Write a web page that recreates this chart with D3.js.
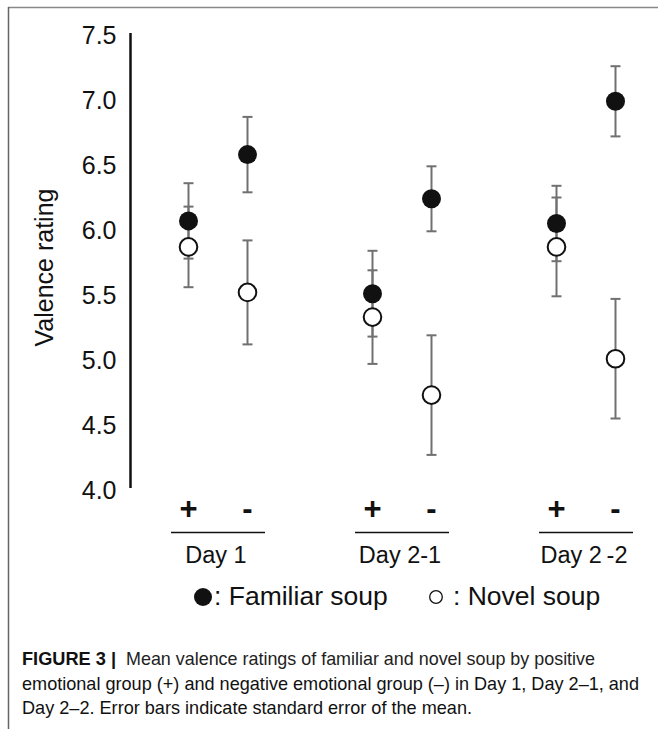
<!DOCTYPE html>
<html>
<head>
<meta charset="utf-8">
<script src="https://cdn.jsdelivr.net/npm/d3@7"></script>
<style>
  html, body { margin: 0; padding: 0; background: #fff; }
  svg { display: block; }
  text { font-family: "Liberation Sans", Arial, Helvetica, sans-serif; fill: #111; }
</style>
</head>
<body>
<script>
// ---------------- data ----------------
const days = ["Day 1", "Day 2-1", "Day 2\u2009-2"];
const groups = ["+", "-"];
// order: Day1 +, Day1 -, Day2-1 +, Day2-1 -, Day2-2 +, Day2-2 -
const familiarMean = [6.07, 6.58, 5.51, 6.24, 6.05, 6.99];
const familiarSE   = [0.29, 0.29, 0.33, 0.25, 0.29, 0.27];
const novelMean    = [5.87, 5.52, 5.33, 4.73, 5.87, 5.01];
const novelSE      = [0.31, 0.40, 0.36, 0.46, 0.38, 0.46];
const yTicks = [4.0, 4.5, 5.0, 5.5, 6.0, 6.5, 7.0, 7.5];
const yLabel = "Valence rating";
const legendLabels = [": Familiar soup", ": Novel soup"];
const captionBold = "FIGURE 3 |";
const captionLines = [
  "Mean valence ratings of familiar and novel soup by positive",
  "emotional group (+) and negative emotional group (\u2013) in Day 1, Day 2\u20131, and",
  "Day 2\u20132. Error bars indicate standard error of the mean."
];

// ---------------- layout ----------------
const W = 659, H = 729;
const svg = d3.select("body").append("svg").attr("width", W).attr("height", H);

// frame
svg.append("line").attr("x1", 8).attr("x2", 658).attr("y1", 7.5).attr("y2", 7.5)
  .attr("stroke", "#888").attr("stroke-width", 1.5);
svg.append("line").attr("x1", 8.5).attr("x2", 8.5).attr("y1", 7).attr("y2", H)
  .attr("stroke", "#666").attr("stroke-width", 1.5);

const y = d3.scaleLinear().domain([4.0, 7.5]).range([490, 35]);
const xDay = d3.scalePoint().domain(days).range([218, 586]);
const xGrp = d3.scalePoint().domain(groups).range([-29.5, 29.5]);

// rows
const rows = [];
days.forEach((d, i) => groups.forEach((g, j) => {
  const k = i * 2 + j;
  rows.push({day: d, grp: g, fm: familiarMean[k], fs: familiarSE[k], nm: novelMean[k], ns: novelSE[k]});
}));
const cx = r => xDay(r.day) + xGrp(r.grp);

// y axis
const axis = d3.axisLeft(y).tickValues(yTicks).tickSize(0).tickPadding(14)
  .tickFormat(d3.format(".1f"));
const ag = svg.append("g").attr("transform", "translate(130.5,0)").call(axis);
ag.select(".domain").attr("stroke", "#111").attr("stroke-width", 2.5)
  .attr("d", `M0,${y(7.5) - 2}V${y(4.0) - 2}`);
ag.selectAll(".tick text").attr("font-size", 25).attr("fill", "#111")
  .attr("font-family", "Liberation Sans, Arial, sans-serif");

// y label
svg.append("text")
  .attr("transform", `translate(53,${(y(7.5) + y(4.0)) / 2 + 5}) rotate(-90)`)
  .attr("text-anchor", "middle").attr("font-size", 25).text(yLabel);

// error bars
const barColor = "#707070";
const capW = 5;
const bars = [];
rows.forEach(r => {
  bars.push({x: cx(r), m: r.fm, s: r.fs});
  bars.push({x: cx(r), m: r.nm, s: r.ns});
});
const bg = svg.append("g").attr("stroke", barColor).attr("stroke-width", 2);
bars.forEach(b => {
  bg.append("line").attr("x1", b.x).attr("x2", b.x).attr("y1", y(b.m + b.s)).attr("y2", y(b.m - b.s));
  bg.append("line").attr("x1", b.x - capW).attr("x2", b.x + capW).attr("y1", y(b.m + b.s)).attr("y2", y(b.m + b.s));
  bg.append("line").attr("x1", b.x - capW).attr("x2", b.x + capW).attr("y1", y(b.m - b.s)).attr("y2", y(b.m - b.s));
});

// points
svg.append("g").selectAll("circle").data(rows).join("circle")
  .attr("cx", cx).attr("cy", r => y(r.fm)).attr("r", 9.5).attr("fill", "#111");
svg.append("g").selectAll("circle").data(rows).join("circle")
  .attr("cx", cx).attr("cy", r => y(r.nm)).attr("r", 8.8)
  .attr("fill", "#fff").attr("stroke", "#111").attr("stroke-width", 2);

// group +/- labels
svg.append("g").selectAll("text").data(rows).join("text")
  .attr("x", cx).attr("y", 519).attr("text-anchor", "middle")
  .attr("font-size", 31).attr("font-weight", "bold").text(r => r.grp);

// day underlines and labels
days.forEach(d => {
  svg.append("line").attr("x1", xDay(d) - 47).attr("x2", xDay(d) + 47)
    .attr("y1", 532.5).attr("y2", 532.5).attr("stroke", "#111").attr("stroke-width", 1.5);
  svg.append("text").attr("x", xDay(d) - 2).attr("y", 563).attr("text-anchor", "middle")
    .attr("font-size", 23.5).text(d);
});

// legend
svg.append("circle").attr("cx", 203).attr("cy", 597).attr("r", 9).attr("fill", "#111");
svg.append("text").attr("x", 214).attr("y", 605).attr("font-size", 26.5).text(legendLabels[0]);
svg.append("circle").attr("cx", 436).attr("cy", 597).attr("r", 6.3)
  .attr("fill", "#fff").attr("stroke", "#111").attr("stroke-width", 1.3);
svg.append("text").attr("x", 453).attr("y", 605).attr("font-size", 26.5).text(legendLabels[1]);

// caption
const cap = svg.append("g").attr("font-size", 18.2);
const t1 = cap.append("text").attr("x", 22).attr("y", 665);
t1.append("tspan").attr("font-weight", "bold").text(captionBold);
t1.append("tspan").attr("x", 126).attr("fill", "#222")
  .attr("textLength", 469).attr("lengthAdjust", "spacingAndGlyphs").text(captionLines[0]);
cap.append("text").attr("x", 22).attr("y", 690).attr("fill", "#222")
  .attr("textLength", 617).attr("lengthAdjust", "spacingAndGlyphs").text(captionLines[1]);
cap.append("text").attr("x", 22).attr("y", 714).attr("fill", "#222")
  .attr("textLength", 450).attr("lengthAdjust", "spacingAndGlyphs").text(captionLines[2]);
</script>
</body>
</html>
